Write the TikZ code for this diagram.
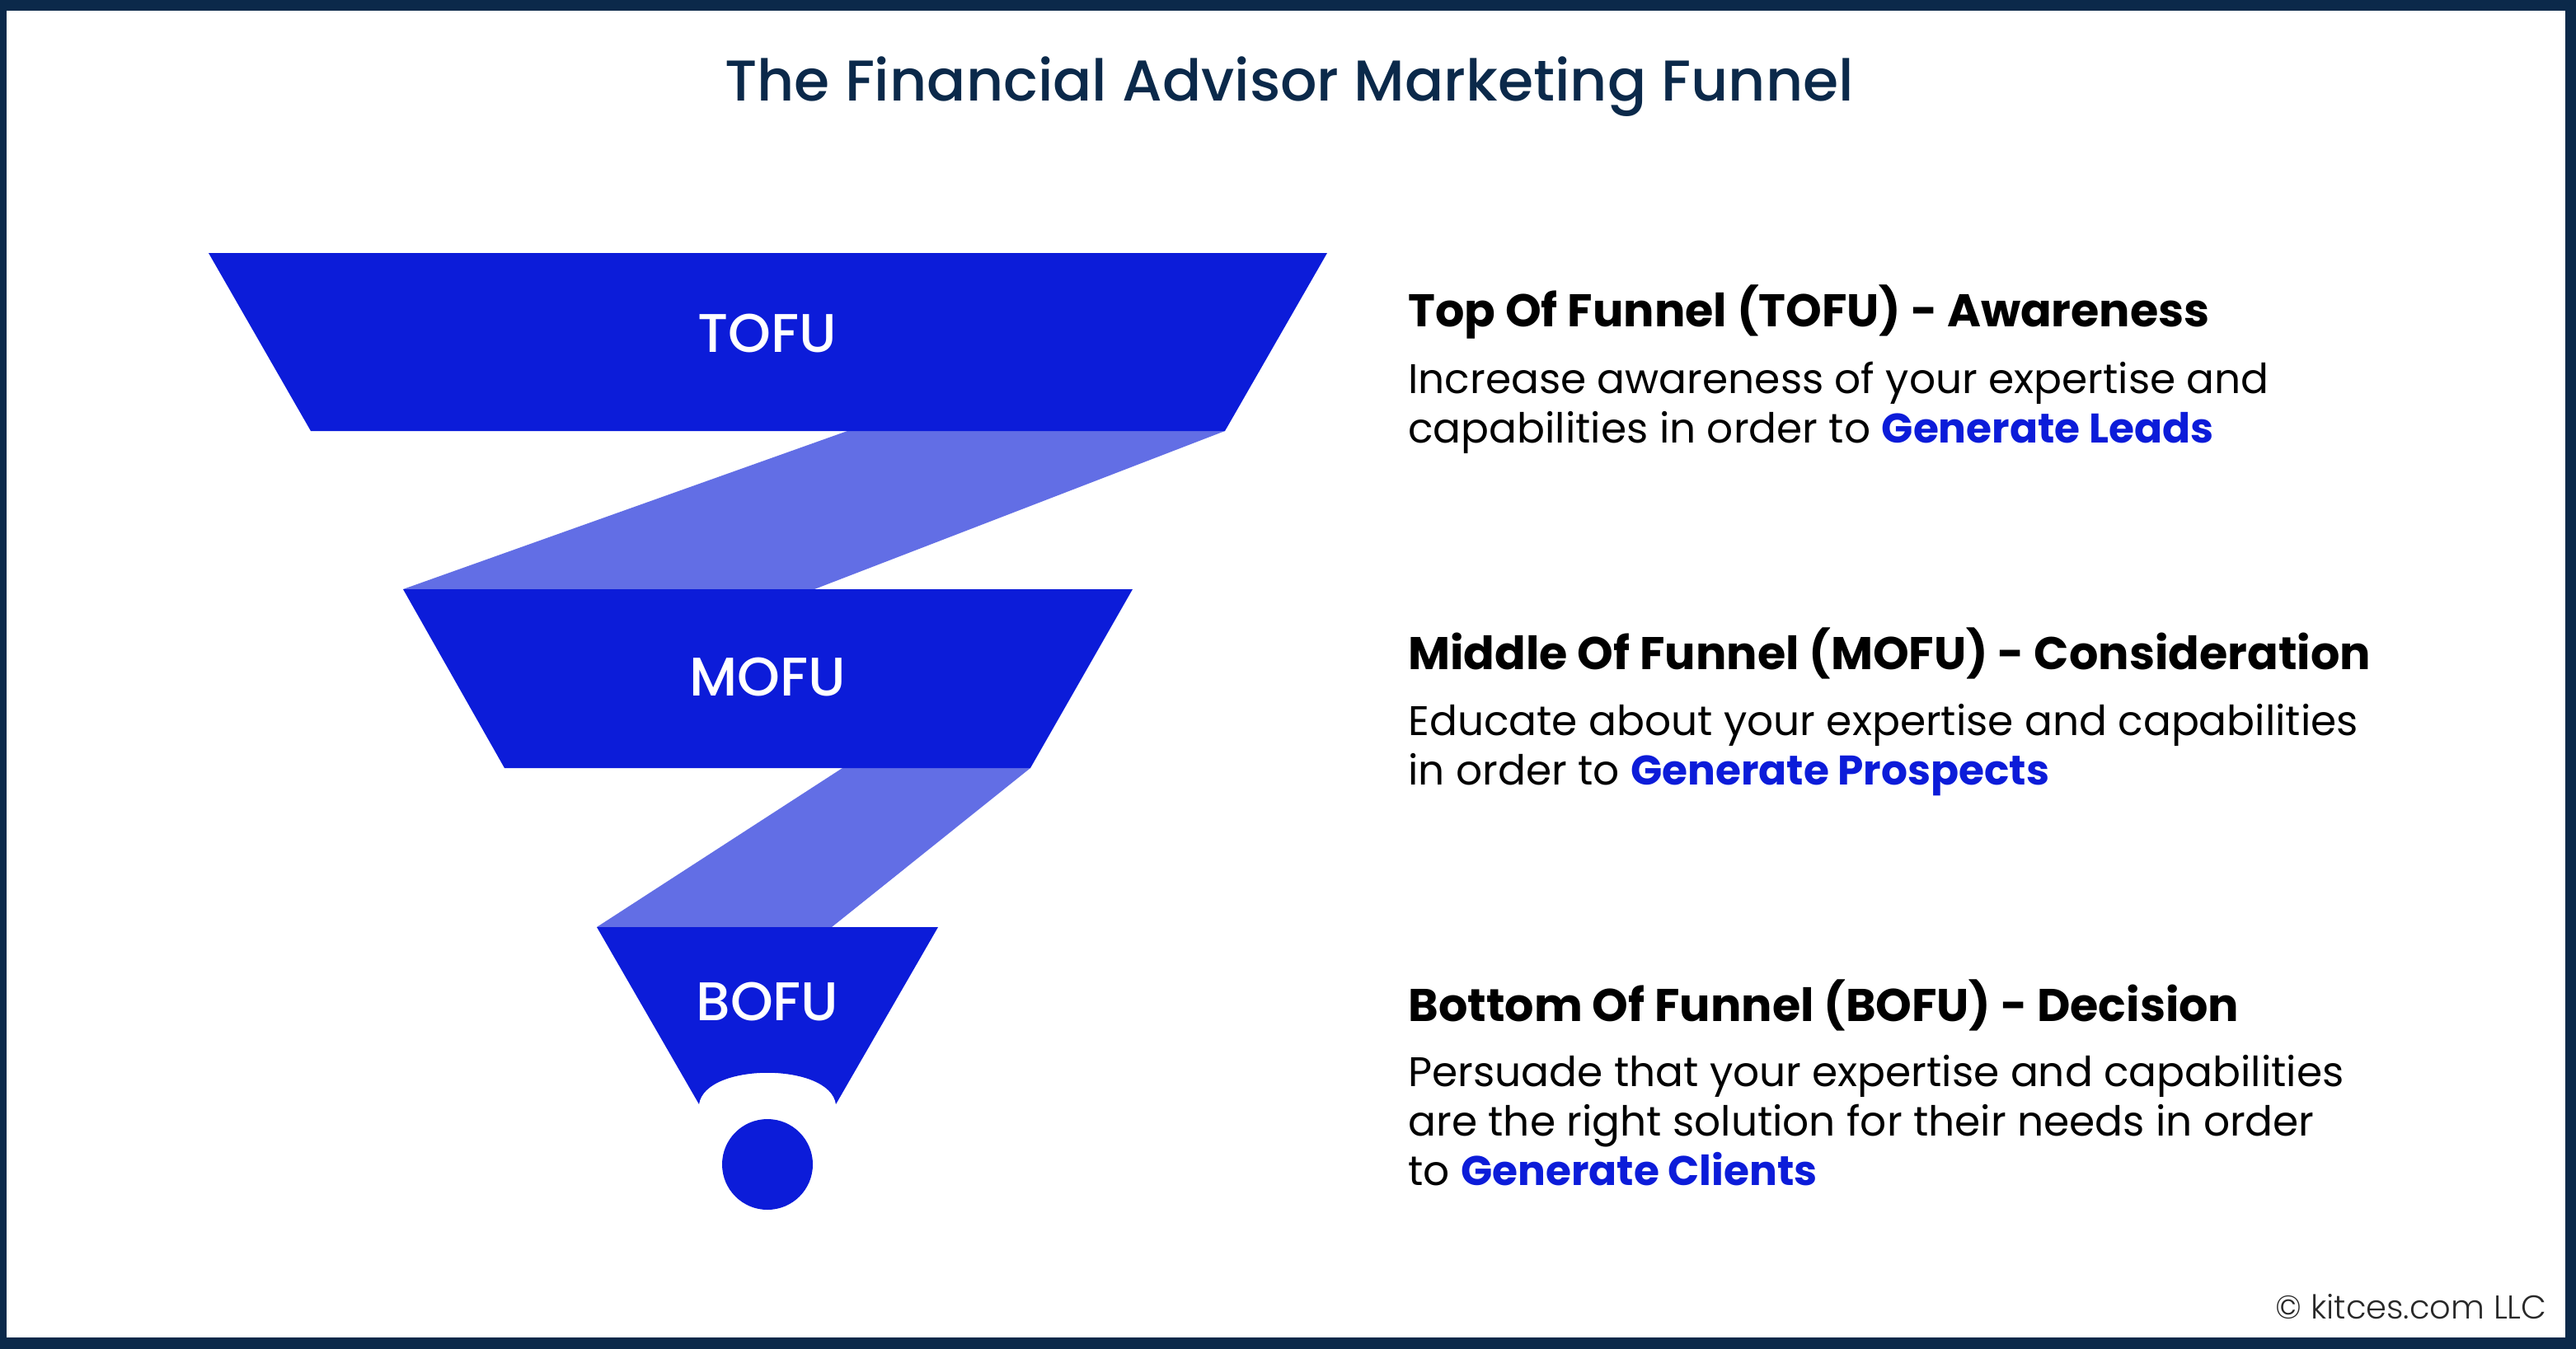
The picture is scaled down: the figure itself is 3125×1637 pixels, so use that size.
\documentclass[tikz,border=0pt]{standalone}
\usepackage{fontspec}
\setmainfont{Poppins}
\newfontfamily\medfont{Poppins Medium}
\newfontfamily\lightfont{Poppins Light}
\usepackage{xcolor}
\usepackage{tikz}
\usetikzlibrary{positioning, calc}
\definecolor{navy}{RGB}{11,41,74}
\definecolor{funnelblue}{RGB}{12,28,217}
\definecolor{bandblue}{RGB}{98,110,229}
\definecolor{notegray}{RGB}{40,40,40}
\newcommand{\goal}[1]{\textbf{\color{funnelblue}#1}}

\begin{document}
\begin{tikzpicture}[x=0.5pt, y=-0.5pt,
    funnelpart/.style={fill=funnelblue},
    bandpart/.style={fill=bandblue},
    stagelabel/.style={anchor=base, text=white, inner sep=0pt, font=\medfont\fontsize{33}{38}\selectfont},
    headtext/.style={anchor=base west, inner sep=0pt, font=\bfseries\fontsize{27.8}{34}\selectfont},
    bodytext/.style={anchor=base west, inner sep=0pt, align=left, font=\fontsize{25.1}{30}\selectfont}]
  \useasboundingbox (0,0) rectangle (3125,1637);
  \fill[navy] (0,0) rectangle (3125,1637);
  \fill[white] (8,13) rectangle (3112,1623);

  \node[anchor=base, inner sep=0pt, text=navy, font=\medfont\fontsize{34.9}{40}\selectfont] (title) at (1564,123) {The Financial Advisor Marketing Funnel};

  \fill[bandpart] (1028,523) -- (1486,523) -- (988,715) -- (489,715) -- cycle;
  \fill[bandpart] (1022,932) -- (1250,932) -- (1009,1125) -- (724,1125) -- cycle;
  \fill[funnelpart] (253,307) -- (1610,307) -- (1486,523) -- (377,523) -- cycle;
  \fill[funnelpart] (489,715) -- (1374,715) -- (1250,932) -- (612,932) -- cycle;
  \fill[funnelpart] (724,1125) -- (1138,1125) -- (1014,1340) .. controls (1007,1289) and (855,1289) .. (848,1340) -- cycle;
  \fill[funnelpart] (931,1413) circle[radius=55];

  \node[stagelabel] (tofu) at (931,427) {TOFU};
  \node[stagelabel] (mofu) at (931,844) {MOFU};
  \node[stagelabel] (bofu) at (931,1238) {BOFU};

  % body nodes sit on the baseline of their last line
  \node[headtext] (tofuhead) at (1708,396) {Top Of Funnel (TOFU) - Awareness};
  \node[bodytext] (tofubody) at (1708,537) {Increase awareness of your expertise and\\capabilities in order to \goal{Generate Leads}};
  \node[headtext] (mofuhead) at (1708,812) {Middle Of Funnel (MOFU) - Consideration};
  \node[bodytext] (mofubody) at (1708,952) {Educate about your expertise and capabilities\\in order to \goal{Generate Prospects}};
  \node[headtext] (bofuhead) at (1708,1239) {Bottom Of Funnel (BOFU) - Decision};
  \node[bodytext] (bofubody) at (1708,1438) {Persuade that your expertise and capabilities\\are the right solution for their needs in order\\to \goal{Generate Clients}};

  \node[anchor=base east, inner sep=0pt, text=notegray, font=\lightfont\fontsize{20}{24}\selectfont] (note) at (3090,1600) {© kitces.com LLC};
\end{tikzpicture}
\end{document}
